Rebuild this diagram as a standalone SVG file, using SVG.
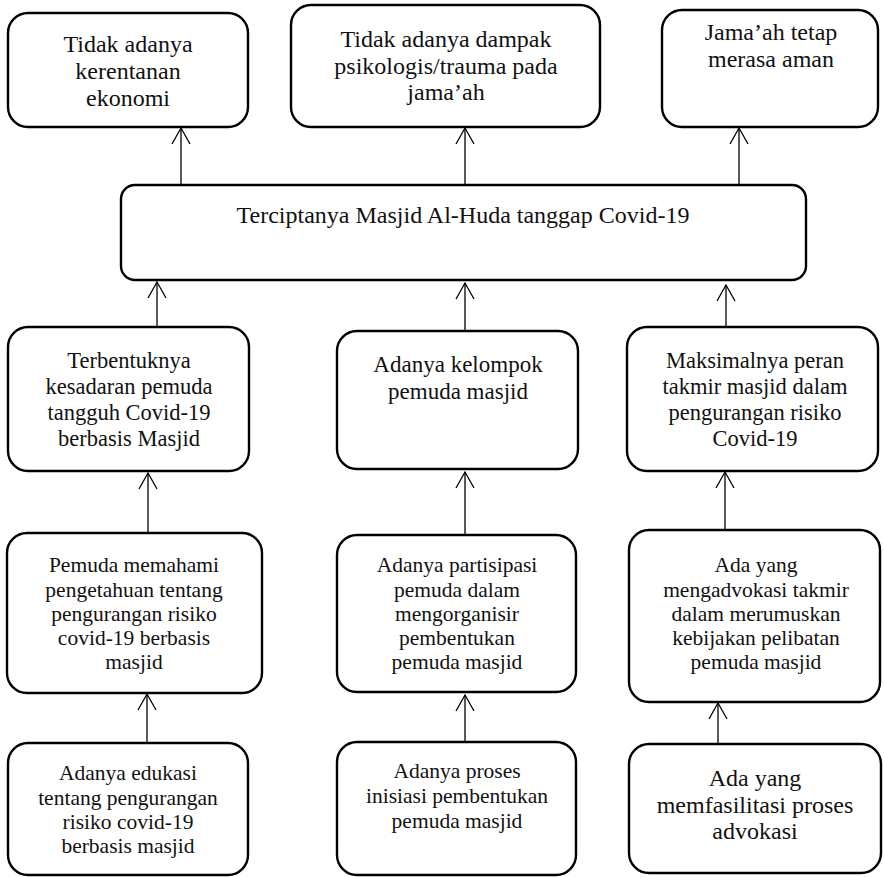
<svg xmlns="http://www.w3.org/2000/svg" width="884" height="877" viewBox="0 0 884 877">
<style>
.box{fill:#fff;stroke:#000;stroke-width:2.4}
.t{font-family:"Liberation Serif","Times New Roman",serif;fill:#111;text-anchor:middle}
.s24{font-size:24px}.s23{font-size:23px}.s225{font-size:22.5px}.s215{font-size:21.5px}
.c{stroke:#000;stroke-width:1.3;fill:none;marker-end:url(#arr)}
</style>
<defs>
<marker id="arr" markerUnits="userSpaceOnUse" markerWidth="20" markerHeight="22" viewBox="0 0 20 22" refX="17" refY="10" orient="auto">
<path d="M1,1 L17,10 L1,19" fill="none" stroke="#000" stroke-width="1.3"/>
</marker>
</defs>
<rect width="884" height="877" fill="#fff"/>
<g id="connectors">
<line class="c" x1="181" y1="185" x2="181" y2="128"/>
<line class="c" x1="465" y1="185" x2="465" y2="128"/>
<line class="c" x1="739" y1="185" x2="739" y2="128"/>
<line class="c" x1="157" y1="327" x2="157" y2="282"/>
<line class="c" x1="465" y1="331" x2="465" y2="283"/>
<line class="c" x1="726" y1="327" x2="726" y2="285"/>
<line class="c" x1="148" y1="533" x2="148" y2="473"/>
<line class="c" x1="465" y1="535" x2="465" y2="472"/>
<line class="c" x1="725" y1="530" x2="725" y2="472"/>
<line class="c" x1="147" y1="743" x2="147" y2="694"/>
<line class="c" x1="465" y1="742" x2="465" y2="695"/>
<line class="c" x1="718" y1="744" x2="718" y2="703"/>
</g>
<g id="nodeA"><rect class="box" x="8" y="13" width="240" height="114" rx="20"/>
<text class="t s24" x="128"><tspan x="128" y="52">Tidak adanya</tspan><tspan x="128" y="79">kerentanan</tspan><tspan x="128" y="106">ekonomi</tspan></text></g>
<g id="nodeB"><rect class="box" x="291" y="5" width="309" height="122" rx="20"/>
<text class="t s24"><tspan x="446" y="47">Tidak adanya dampak</tspan><tspan x="446" y="74">psikologis/trauma pada</tspan><tspan x="446" y="100">jama’ah</tspan></text></g>
<g id="nodeC"><rect class="box" x="662" y="10" width="216" height="117" rx="20"/>
<text class="t s24"><tspan x="771" y="40">Jama’ah tetap</tspan><tspan x="771" y="67">merasa aman</tspan></text></g>
<g id="nodeM"><rect class="box" x="121" y="185" width="685" height="95" rx="14"/>
<text class="t s24" x="463" y="223">Terciptanya Masjid Al-Huda tanggap Covid-19</text></g>
<g id="nodeD"><rect class="box" x="8" y="327" width="241" height="144" rx="20"/>
<text class="t s225"><tspan x="129" y="368">Terbentuknya</tspan><tspan x="129" y="394">kesadaran pemuda</tspan><tspan x="129" y="420">tangguh Covid-19</tspan><tspan x="129" y="446">berbasis Masjid</tspan></text></g>
<g id="nodeE"><rect class="box" x="337" y="331" width="241" height="138" rx="20"/>
<text class="t s23"><tspan x="458" y="372">Adanya kelompok</tspan><tspan x="458" y="399">pemuda masjid</tspan></text></g>
<g id="nodeF"><rect class="box" x="627" y="327" width="251" height="144" rx="20"/>
<text class="t s225"><tspan x="755" y="368">Maksimalnya peran</tspan><tspan x="755" y="394">takmir masjid dalam</tspan><tspan x="755" y="420">pengurangan risiko</tspan><tspan x="755" y="446">Covid-19</tspan></text></g>
<g id="nodeG"><rect class="box" x="7" y="533" width="255" height="160" rx="20"/>
<text class="t s215"><tspan x="134" y="572">Pemuda memahami</tspan><tspan x="134" y="597">pengetahuan tentang</tspan><tspan x="134" y="621">pengurangan risiko</tspan><tspan x="134" y="645">covid-19 berbasis</tspan><tspan x="134" y="669">masjid</tspan></text></g>
<g id="nodeH"><rect class="box" x="337" y="535" width="239" height="157" rx="20"/>
<text class="t s215"><tspan x="457" y="572">Adanya partisipasi</tspan><tspan x="457" y="597">pemuda dalam</tspan><tspan x="457" y="621">mengorganisir</tspan><tspan x="457" y="645">pembentukan</tspan><tspan x="457" y="669">pemuda masjid</tspan></text></g>
<g id="nodeI"><rect class="box" x="629" y="530" width="251" height="172" rx="20"/>
<text class="t s215"><tspan x="756" y="572">Ada yang</tspan><tspan x="756" y="597">mengadvokasi takmir</tspan><tspan x="756" y="621">dalam merumuskan</tspan><tspan x="756" y="645">kebijakan pelibatan</tspan><tspan x="756" y="669">pemuda masjid</tspan></text></g>
<g id="nodeJ"><rect class="box" x="8" y="743" width="240" height="132" rx="20"/>
<text class="t s215"><tspan x="128" y="780">Adanya edukasi</tspan><tspan x="128" y="805">tentang pengurangan</tspan><tspan x="128" y="829">risiko covid-19</tspan><tspan x="128" y="853">berbasis masjid</tspan></text></g>
<g id="nodeK"><rect class="box" x="337" y="742" width="239" height="133" rx="20"/>
<text class="t s215"><tspan x="457" y="778">Adanya proses</tspan><tspan x="457" y="803">inisiasi pembentukan</tspan><tspan x="457" y="828">pemuda masjid</tspan></text></g>
<g id="nodeL"><rect class="box" x="629" y="744" width="252" height="129" rx="20"/>
<text class="t s24"><tspan x="755" y="786">Ada yang</tspan><tspan x="755" y="813">memfasilitasi proses</tspan><tspan x="755" y="839">advokasi</tspan></text></g>
</svg>
